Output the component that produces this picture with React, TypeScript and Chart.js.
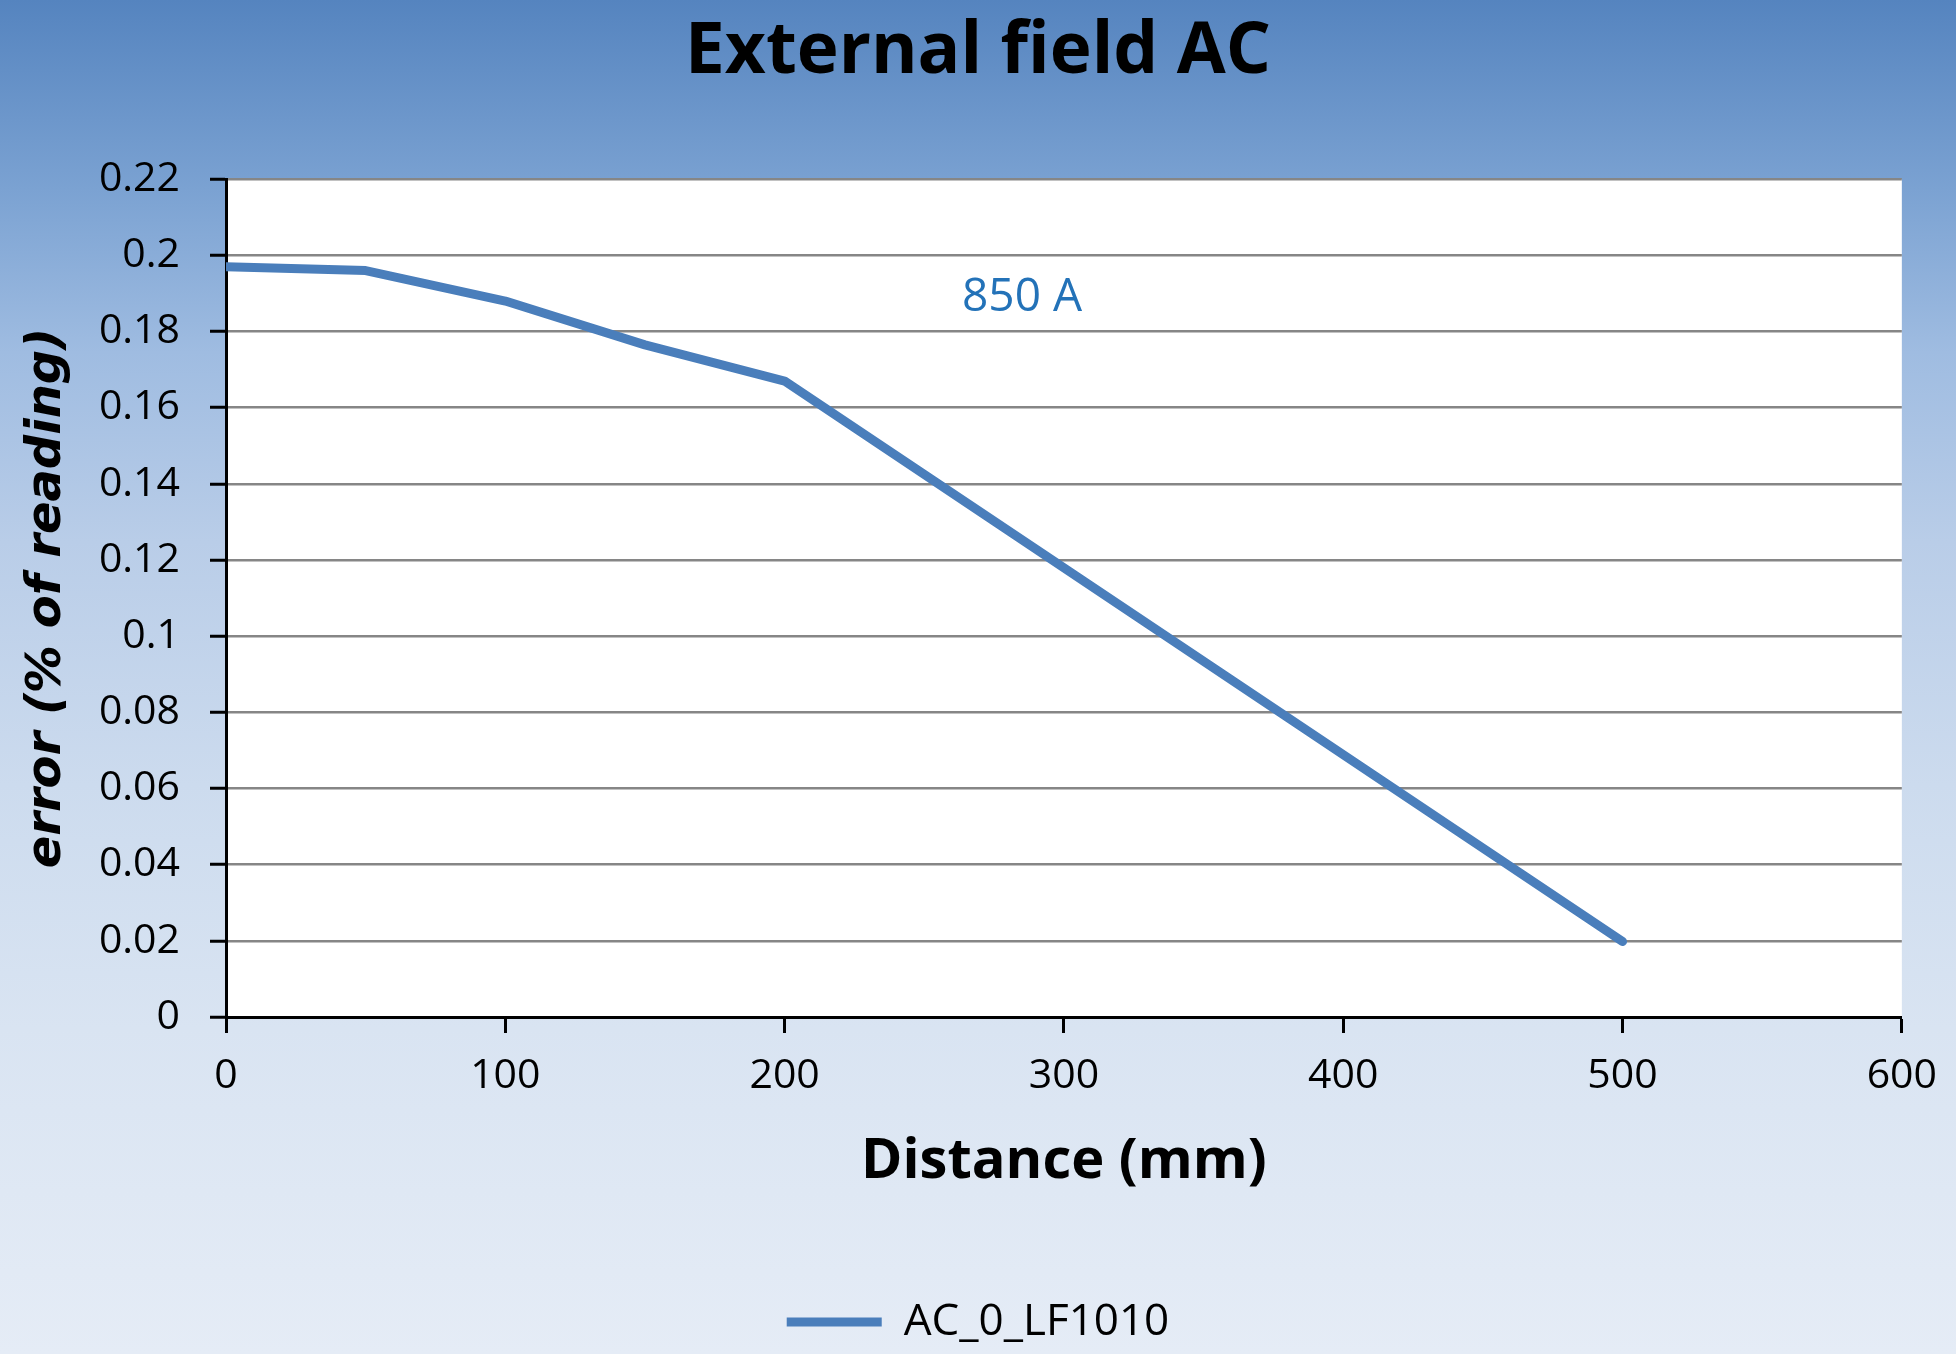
import React, { useEffect, useRef } from 'react';
import { Chart, registerables } from 'chart.js';

Chart.register(...registerables);

// ---- data ----
const DISTANCE_MM = [0, 50, 100, 150, 200, 500];
const ERROR_PCT = [0.197, 0.196, 0.188, 0.1765, 0.167, 0.0198];
const SERIES_LABEL = 'AC_0_LF1010';
const X_TICKS = [0, 100, 200, 300, 400, 500, 600];
const Y_TICKS = [0, 0.02, 0.04, 0.06, 0.08, 0.1, 0.12, 0.14, 0.16, 0.18, 0.2, 0.22];
const CHART_TITLE = 'External field AC';
const X_TITLE = 'Distance (mm)';
const Y_TITLE = 'error (% of reading)';
const ANNOTATION_TEXT = '850 A';
const ANNOTATION_X = 285;
const ANNOTATION_Y = 0.1888;

// ---- layout / style ----
const W = 1956;
const H = 1354;
const PLOT_LEFT = 226;
const PLOT_BOTTOM = 1017;
const RIGHT_GAP = 52;
const LINE_COLOR = '#4a7ebb';
const TEXT_FONT = '"Open Sans", "Noto Sans", sans-serif';

const plotBackground = {
  id: 'plotBackground',
  beforeDraw(chart: any) {
    const { ctx, chartArea } = chart;
    if (!chartArea) return;
    ctx.save();
    ctx.fillStyle = '#ffffff';
    ctx.fillRect(chartArea.left, chartArea.top, chartArea.right - chartArea.left, chartArea.bottom - chartArea.top);
    ctx.restore();
  },
};

const annotationLabel = {
  id: 'annotationLabel',
  afterDatasetsDraw(chart: any) {
    const { ctx, scales } = chart;
    const px = scales.x.getPixelForValue(ANNOTATION_X);
    const py = scales.y.getPixelForValue(ANNOTATION_Y);
    ctx.save();
    ctx.font = `46px ${TEXT_FONT}`;
    ctx.fillStyle = '#2372b8';
    ctx.textAlign = 'center';
    ctx.textBaseline = 'middle';
    ctx.fillText(ANNOTATION_TEXT, px, py);
    ctx.restore();
  },
};

export default function App() {
  const canvasRef = useRef<HTMLCanvasElement | null>(null);

  useEffect(() => {
    const canvas = canvasRef.current;
    if (!canvas) return;
    const chart = new Chart(canvas, {
      type: 'line',
      data: {
        datasets: [
          {
            label: SERIES_LABEL,
            data: DISTANCE_MM.map((x, i) => ({ x, y: ERROR_PCT[i] })),
            borderColor: LINE_COLOR,
            backgroundColor: LINE_COLOR,
            borderWidth: 9,
            borderCapStyle: 'round',
            borderJoinStyle: 'round',
            pointRadius: 0,
            tension: 0,
            fill: false,
          },
        ],
      },
      options: {
        animation: false,
        responsive: true,
        maintainAspectRatio: false,
        layout: { padding: 0 },
        plugins: {
          title: {
            display: true,
            text: CHART_TITLE,
            color: '#000000',
            font: { family: TEXT_FONT, size: 71, weight: 'bold', lineHeight: 1.2 },
            padding: { top: 10, bottom: 84 },
          },
          legend: {
            display: true,
            position: 'bottom',
            labels: {
              color: '#000000',
              font: { family: TEXT_FONT, size: 44 },
              usePointStyle: true,
              pointStyle: 'line',
              pointStyleWidth: 95,
              padding: 8,
            },
          },
          tooltip: { enabled: false },
        },
        scales: {
          x: {
            type: 'linear',
            min: 0,
            max: 600,
            afterBuildTicks: (scale: any) => {
              scale.ticks = X_TICKS.map((v) => ({ value: v }));
            },
            afterFit: (scale: any) => {
              const legendH = scale.chart.legend ? scale.chart.legend.height : 0;
              scale.height = scale.chart.height - legendH - PLOT_BOTTOM;
            },
            ticks: {
              color: '#000000',
              font: { family: TEXT_FONT, size: 41 },
              padding: 19,
              maxRotation: 0,
              callback: (v: any) => String(v),
            },
            grid: {
              drawOnChartArea: false,
              drawTicks: true,
              tickLength: 16,
              tickColor: '#000000',
              tickWidth: 3,
            },
            border: { display: true, color: '#000000', width: 3 },
            title: {
              display: true,
              text: X_TITLE,
              color: '#000000',
              font: { family: TEXT_FONT, size: 56, weight: 'bold', lineHeight: 1.2 },
              padding: { top: 0, bottom: 96 },
            },
          },
          y: {
            type: 'linear',
            position: 'left',
            min: 0,
            max: 0.22,
            afterBuildTicks: (scale: any) => {
              scale.ticks = Y_TICKS.map((v) => ({ value: v }));
            },
            afterFit: (scale: any) => {
              scale.width = PLOT_LEFT;
            },
            ticks: {
              color: '#000000',
              font: { family: TEXT_FONT, size: 41 },
              padding: 30,
              callback: (v: any) => String(Number(Number(v).toFixed(4))),
            },
            grid: {
              color: '#868686',
              lineWidth: 2.5,
              drawTicks: true,
              tickLength: 16,
              tickColor: '#000000',
              tickWidth: 3,
            },
            border: { display: true, color: '#000000', width: 3 },
            title: {
              display: true,
              text: Y_TITLE,
              color: '#000000',
              font: { family: '"DejaVu Sans", sans-serif', size: 48, weight: 'bold', style: 'italic', lineHeight: 1.2 },
              padding: { top: 19, bottom: 0 },
            },
          },
          rightGap: {
            type: 'linear',
            position: 'right',
            display: true,
            afterFit: (scale: any) => {
              scale.width = RIGHT_GAP;
            },
            ticks: { display: false },
            grid: { display: false, drawTicks: false },
            border: { display: false },
            title: { display: false },
          },
        },
      },
      plugins: [plotBackground, annotationLabel],
    } as any);
    return () => chart.destroy();
  }, []);

  return (
    <div
      style={{
        position: 'fixed',
        left: 0,
        top: 0,
        width: W,
        height: H,
        background:
          'linear-gradient(to bottom, #5584bf 0%, #7ba2d2 14%, #9fbce1 26%, #b9cde8 40%, #ccdbee 58%, #d9e4f2 76%, #e5ecf6 100%)',
      }}
    >
      <canvas ref={canvasRef} />
    </div>
  );
}
